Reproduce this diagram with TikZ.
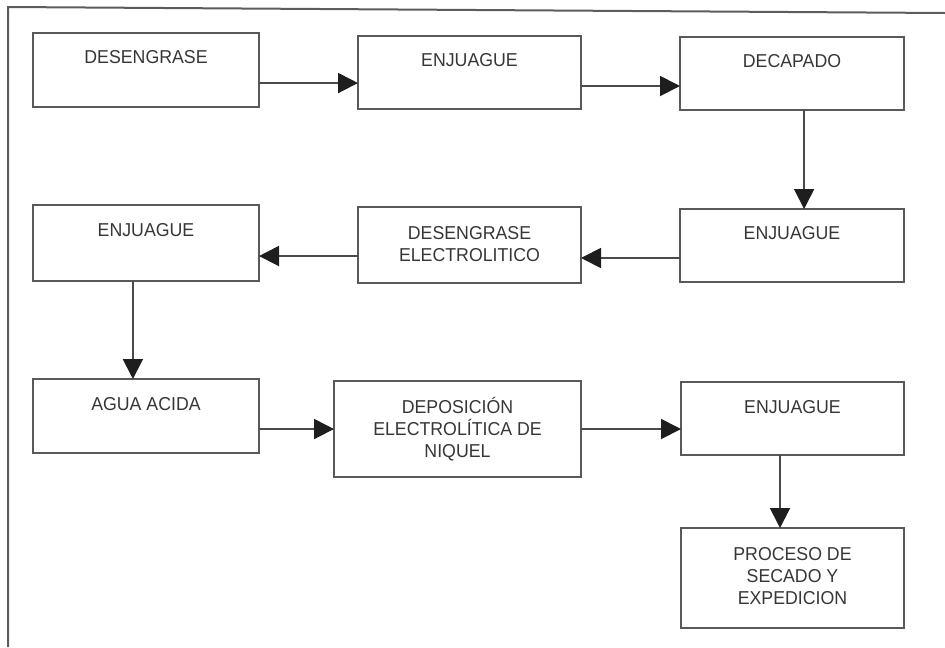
\documentclass[tikz,border=0pt]{standalone}
\usepackage{fontspec}
\setmainfont[FakeStretch=0.95]{Liberation Sans}
\usetikzlibrary{arrows.meta,calc,fit}

\definecolor{boxline}{HTML}{595959}
\definecolor{connline}{HTML}{4A4A4A}
\definecolor{tipfill}{HTML}{1E1E1E}
\definecolor{inktext}{HTML}{363636}
\definecolor{frameline}{HTML}{5C5C5C}

\tikzset{
  stage/.style={draw=boxline, line width=1.6pt, inner sep=0pt, outer sep=0pt, fit={#1}},
  caption/.style={anchor=base, inner sep=0pt, text=inktext,
    font=\fontsize{14}{16.5}\selectfont},
  flow/.style={draw=connline, line width=1.4pt,
    -{Triangle[length=15pt, width=15pt, color=tipfill]}},
  border/.style={draw=frameline, line width=1.5pt}
}

\newcommand{\lines}[1]{\begin{tabular}[t]{@{}c@{}}#1\end{tabular}}

\begin{document}
\begin{tikzpicture}[x=0.75pt, y=-0.75pt]
  \useasboundingbox (0,0) rectangle (945,647);

  % outer frame (top and left sides)
  \draw[border] (8,647) -- (8,7) -- (945,13);

  % process stages
  \node[stage={(33,33) (259,107)}]   (b1) {};
  \node[stage={(358,36) (581,109)}]  (b2) {};
  \node[stage={(680,37) (904,110)}]  (b3) {};
  \node[stage={(680,209) (904,282)}] (b4) {};
  \node[stage={(358,207) (581,283)}] (b5) {};
  \node[stage={(33,205) (259,281)}]  (b6) {};
  \node[stage={(33,379) (259,453)}]  (b7) {};
  \node[stage={(334,381) (581,477)}] (b8) {};
  \node[stage={(681,382) (904,455)}] (b9) {};
  \node[stage={(681,528) (904,628)}] (b10) {};

  % stage captions
  \node[caption] (t1)  at ($(b1.north)+(0,30)$)  {\lines{DESENGRASE}};
  \node[caption] (t2)  at ($(b2.north)+(0,30)$)  {\lines{ENJUAGUE}};
  \node[caption] (t3)  at ($(b3.north)+(0,30)$)  {\lines{DECAPADO}};
  \node[caption] (t4)  at ($(b4.north)+(0,30)$)  {\lines{ENJUAGUE}};
  \node[caption] (t5)  at ($(b5.north)+(0,32)$)  {\lines{DESENGRASE\\ELECTROLITICO}};
  \node[caption] (t6)  at ($(b6.north)+(0,31)$)  {\lines{ENJUAGUE}};
  \node[caption] (t7)  at ($(b7.north)+(0,31)$)  {\lines{AGUA ACIDA}};
  \node[caption] (t8)  at ($(b8.north)+(0,32)$)  {\lines{DEPOSICIÓN\\ELECTROLÍTICA DE\\NIQUEL}};
  \node[caption] (t9)  at ($(b9.north)+(0,31)$)  {\lines{ENJUAGUE}};
  \node[caption] (t10) at ($(b10.north)+(0,32)$) {\lines{PROCESO DE\\SECADO Y\\EXPEDICION}};

  % flow between stages
  \draw[flow] ($(b1.north east)!0.676!(b1.south east)$) coordinate (s1) -- (b2.west |- s1);
  \draw[flow] ($(b2.north east)!0.685!(b2.south east)$) coordinate (s2) -- (b3.west |- s2);
  \draw[flow] ($(b3.south west)!0.554!(b3.south east)$) coordinate (s3) -- (b4.north -| s3);
  \draw[flow] ($(b4.north west)!0.671!(b4.south west)$) coordinate (s4) -- (b5.east |- s4);
  \draw[flow] ($(b5.north west)!0.645!(b5.south west)$) coordinate (s5) -- (b6.east |- s5);
  \draw[flow] ($(b6.south west)!0.442!(b6.south east)$) coordinate (s6) -- (b7.north -| s6);
  \draw[flow] ($(b7.north east)!0.676!(b7.south east)$) coordinate (s7) -- (b8.west |- s7);
  \draw[flow] ($(b8.north east)!0.5!(b8.south east)$)   coordinate (s8) -- (b9.west |- s8);
  \draw[flow] ($(b9.south west)!0.444!(b9.south east)$) coordinate (s9) -- (b10.north -| s9);
\end{tikzpicture}
\end{document}
